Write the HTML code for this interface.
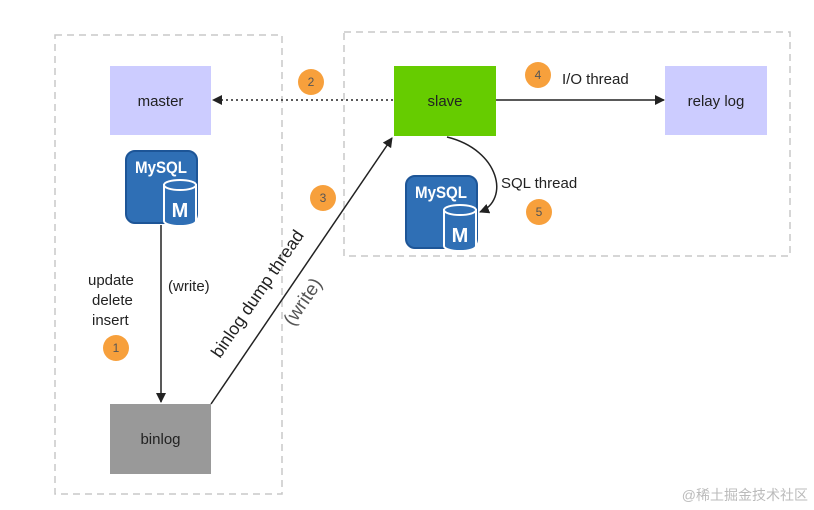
<!DOCTYPE html>
<html><head><meta charset="utf-8"><style>
body{margin:0;background:#fff;}
svg{display:block;font-family:"Liberation Sans","Noto Sans CJK SC",sans-serif;}
</style></head><body>
<svg width="814" height="510" viewBox="0 0 814 510" xmlns="http://www.w3.org/2000/svg">
<defs>
<marker id="ah" markerWidth="10" markerHeight="10" refX="9" refY="5" orient="auto" markerUnits="userSpaceOnUse">
<path d="M0,0 L10,5 L0,10 Z" fill="#222"/></marker>
<g id="mysql">
<rect x="0" y="0" width="71" height="72" rx="9" fill="#2f6fb5"/>
<rect x="0" y="0" width="71" height="72" rx="9" fill="none" stroke="#1d5597" stroke-width="2"/>
<text x="35" y="22" font-size="17" font-weight="bold" fill="#fff" text-anchor="middle" textLength="52" lengthAdjust="spacingAndGlyphs">MySQL</text>
<path d="M38,34 h32 v36 a16,5 0 0 1 -32,0 Z" fill="#2f6fb5" stroke="#fff" stroke-width="2"/>
<ellipse cx="54" cy="34" rx="16" ry="5" fill="#2f6fb5" stroke="#fff" stroke-width="2"/>
<text x="54" y="66" font-size="20" font-weight="bold" fill="#fff" text-anchor="middle">M</text>
</g>
</defs>
<rect x="55" y="35" width="227" height="459" fill="none" stroke="#c8c8c8" stroke-width="1.5" stroke-dasharray="7,5"/>
<rect x="344" y="32" width="446" height="224" fill="none" stroke="#c8c8c8" stroke-width="1.5" stroke-dasharray="7,5"/>
<rect x="110" y="66" width="101" height="69" fill="#ccccff"/>
<text x="160.5" y="106" font-size="15" text-anchor="middle" fill="#222">master</text>
<rect x="394" y="66" width="102" height="70" fill="#66cc00"/>
<text x="445" y="106" font-size="15" text-anchor="middle" fill="#222">slave</text>
<rect x="665" y="66" width="102" height="69" fill="#ccccff"/>
<text x="716" y="106" font-size="15" text-anchor="middle" fill="#222">relay log</text>
<rect x="110" y="404" width="101" height="70" fill="#999"/>
<text x="160.5" y="444" font-size="15" text-anchor="middle" fill="#222">binlog</text>
<use href="#mysql" x="126" y="151"/>
<use href="#mysql" x="406" y="176"/>
<line x1="393" y1="100" x2="213" y2="100" stroke="#222" stroke-width="1.5" stroke-dasharray="2,3" marker-end="url(#ah)"/>
<line x1="496" y1="100" x2="664" y2="100" stroke="#222" stroke-width="1.5" marker-end="url(#ah)"/>
<line x1="161" y1="225" x2="161" y2="402" stroke="#222" stroke-width="1.5" marker-end="url(#ah)"/>
<line x1="211" y1="404" x2="392" y2="138" stroke="#222" stroke-width="1.5" marker-end="url(#ah)"/>
<path d="M447,137 C500,150 510,200 480,212" fill="none" stroke="#222" stroke-width="1.5" marker-end="url(#ah)"/>
<g font-size="15" fill="#222">
<text x="562" y="84">I/O thread</text>
<text x="501" y="188">SQL thread</text>
<text x="168" y="291">(write)</text>
<text x="88" y="285">update</text>
<text x="92" y="305">delete</text>
<text x="92" y="325">insert</text>
<text transform="translate(220,359) rotate(-55.7)" font-size="17.5">binlog dump thread</text>
<text transform="translate(293,327) rotate(-55.7)" font-size="19" fill="#555">(write)</text>
</g>
<g font-size="12" fill="#555" text-anchor="middle">
<circle cx="311" cy="82" r="13" fill="#f7a03c"/><text x="311" y="86">2</text>
<circle cx="538" cy="75" r="13" fill="#f7a03c"/><text x="538" y="79">4</text>
<circle cx="323" cy="198" r="13" fill="#f7a03c"/><text x="323" y="202">3</text>
<circle cx="539" cy="212" r="13" fill="#f7a03c"/><text x="539" y="216">5</text>
<circle cx="116" cy="348" r="13" fill="#f7a03c"/><text x="116" y="352">1</text>
</g>
<text x="808" y="500" font-size="14" fill="#bbb" text-anchor="end">@稀土掘金技术社区</text>
</svg>
</body></html>
